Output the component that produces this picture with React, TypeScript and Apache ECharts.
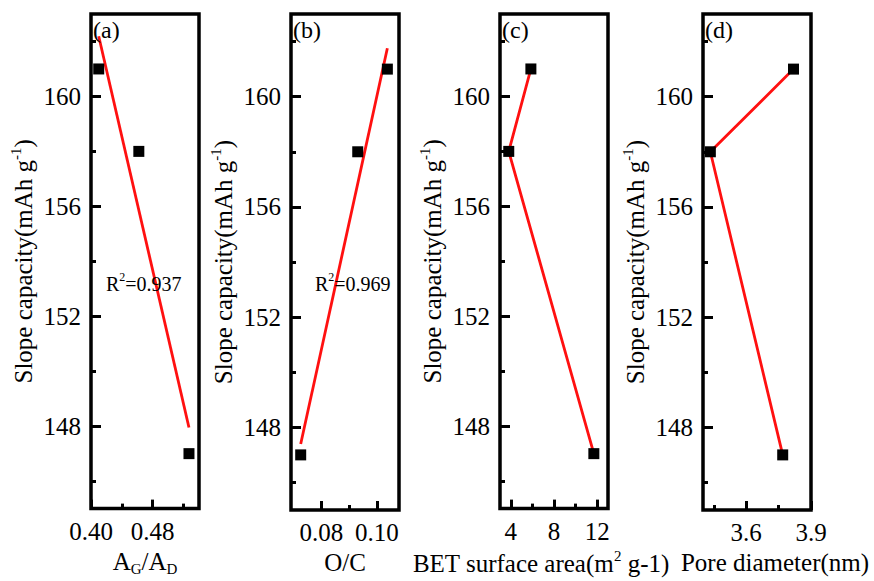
import React, { useEffect, useRef } from "react";
import * as echarts from "echarts";

// Slope capacity of the three samples (mAh g-1), in the order the points are joined
const capacity = [161, 158, 147];
// Structural descriptors of the same three samples
const agAdRatio = [0.41, 0.462, 0.527];
const oxygenCarbon = [0.1038, 0.0931, 0.0725];
const betArea = [5.86, 3.81, 11.69];
const poreDiameter = [3.819, 3.434, 3.769];

// Shared y-axis ticks
const yMajorTicks = [148, 152, 156, 160];
const yMinorTicks = [146, 150, 154, 158, 162];

// Per-panel x-axis ticks
const xMajorA = [0.4, 0.48];
const xMinorA = [0.44, 0.52];
const xMajorB = [0.08, 0.1];
const xMinorB = [0.09];
const xMajorC = [4, 8, 12];
const xMinorC = [6, 10];
const xMajorD = [3.6, 3.9];
const xMinorD = [3.45, 3.75];

// Coefficients of determination for the linear fits
const r2Values = ["0.937", "0.969"];
const panelTags = ["(a)", "(b)", "(c)", "(d)"];

const FONT = "Liberation Serif";
const RED = "#ff1010";

function pairs(xs: number[], ys: number[]) {
  return xs.map((x, i) => [x, ys[i]]);
}

// Least-squares straight line, evaluated at the ends of the data range
function linearFit(xs: number[], ys: number[]) {
  const n = xs.length;
  const mx = xs.reduce((s, v) => s + v, 0) / n;
  const my = ys.reduce((s, v) => s + v, 0) / n;
  let sxx = 0;
  let sxy = 0;
  for (let i = 0; i < n; i++) {
    sxx += (xs[i] - mx) * (xs[i] - mx);
    sxy += (xs[i] - mx) * (ys[i] - my);
  }
  const slope = sxy / sxx;
  const b = my - slope * mx;
  const x0 = Math.min(...xs);
  const x1 = Math.max(...xs);
  return [
    [x0, b + slope * x0],
    [x1, b + slope * x1],
  ];
}

// Rich-text styles for axis names with sub/superscripts
const richStyles = {
  n: { fontFamily: FONT, fontSize: 25, color: "#000", lineHeight: 30 },
  sup: { fontFamily: FONT, fontSize: 15, color: "#000", verticalAlign: "top", lineHeight: 30 },
  sub: { fontFamily: FONT, fontSize: 15, color: "#000", verticalAlign: "bottom", lineHeight: 30 },
};

const layout = [
  { left: 91, min: 0.4, max: 0.54, major: xMajorA, minor: xMinorA, digits: 2, name: "{n|A}{sub|G}{n|/A}{sub|D}", shift: 0 },
  { left: 291, min: 0.069, max: 0.108, major: xMajorB, minor: xMinorB, digits: 2, name: "{n|O/C}", shift: 0 },
  { left: 500, min: 3, max: 13, major: xMajorC, minor: xMinorC, digits: 0, name: "{n|BET surface area(m}{sup|2}{n| g-1)}", shift: -13 },
  { left: 703, min: 3.4, max: 3.9, major: xMajorD, minor: xMinorD, digits: 1, name: "{n|Pore diameter(nm)}", shift: 18 },
];

const TOP = 14;
const HEIGHT = 496;
const WIDTH = 108;

export default function App() {
  const ref = useRef<HTMLDivElement>(null);

  useEffect(() => {
    if (!ref.current) return;
    const chart = echarts.init(ref.current, null, { renderer: "svg" });

    const grids = layout.map((p) => ({
      left: p.left,
      top: TOP,
      width: WIDTH,
      height: HEIGHT,
      show: true,
      borderColor: "#000",
      borderWidth: 3.5,
      backgroundColor: "transparent",
    }));

    const labelStyle = { fontFamily: FONT, fontSize: 25, color: "#000" };
    const tickLine = { color: "#000", width: 3 };

    const xAxes: any[] = [];
    const yAxes: any[] = [];
    layout.forEach((p, i) => {
      const pad = p.shift < 0 ? [0, -2 * p.shift, 0, 0] : [0, 0, 0, 2 * p.shift];
      // main x axis: labels, major ticks and the axis name
      xAxes.push({
        gridIndex: i,
        type: "value",
        position: "bottom",
        min: p.min,
        max: p.max,
        axisLine: { show: false },
        splitLine: { show: false },
        axisTick: { inside: true, length: 9, customValues: p.major, lineStyle: tickLine },
        axisLabel: {
          customValues: p.major,
          margin: 10,
          ...labelStyle,
          formatter: (v: number) => v.toFixed(p.digits),
        },
        name: p.name,
        nameLocation: "middle",
        nameGap: 34,
        nameTextStyle: { ...labelStyle, padding: pad, rich: richStyles },
      });
      // companion x axis carrying the short minor ticks
      xAxes.push({
        gridIndex: i,
        type: "value",
        position: "bottom",
        min: p.min,
        max: p.max,
        axisLine: { show: false },
        splitLine: { show: false },
        axisLabel: { show: false },
        axisTick: { inside: true, length: 5, customValues: p.minor, lineStyle: tickLine },
      });
      yAxes.push({
        gridIndex: i,
        type: "value",
        position: "left",
        min: 145,
        max: 163,
        axisLine: { show: false },
        splitLine: { show: false },
        axisTick: { inside: true, length: 10, customValues: yMajorTicks, lineStyle: tickLine },
        axisLabel: {
          customValues: yMajorTicks,
          margin: 10,
          ...labelStyle,
          formatter: (v: number) => String(v),
        },
        name: "{n|Slope capacity(mAh g}{sup|-1}{n|)}",
        nameLocation: "middle",
        nameGap: 53,
        nameTextStyle: { ...labelStyle, rich: richStyles },
      });
      yAxes.push({
        gridIndex: i,
        type: "value",
        position: "left",
        min: 145,
        max: 163,
        axisLine: { show: false },
        splitLine: { show: false },
        axisLabel: { show: false },
        axisTick: { inside: true, length: 5, customValues: yMinorTicks, lineStyle: tickLine },
      });
    });

    const pointStyle = {
      symbol: "rect",
      symbolSize: 11,
      itemStyle: { color: "#000", opacity: 1, borderWidth: 0 },
    };
    const xData = [agAdRatio, oxygenCarbon, betArea, poreDiameter];

    const series: any[] = [];
    // (a), (b): measured points with a least-squares line
    [0, 1].forEach((i) => {
      series.push({
        type: "line",
        xAxisIndex: 2 * i,
        yAxisIndex: 2 * i,
        data: linearFit(xData[i], capacity),
        symbol: "none",
        lineStyle: { color: RED, width: 2.8 },
        z: 2,
      });
      series.push({
        type: "scatter",
        xAxisIndex: 2 * i,
        yAxisIndex: 2 * i,
        data: pairs(xData[i], capacity),
        ...pointStyle,
        z: 3,
      });
    });
    // (c), (d): points joined in sample order
    [2, 3].forEach((i) => {
      series.push({
        type: "line",
        xAxisIndex: 2 * i,
        yAxisIndex: 2 * i,
        data: pairs(xData[i], capacity),
        showSymbol: true,
        showAllSymbol: true,
        ...pointStyle,
        lineStyle: { color: RED, width: 2.8 },
        z: 3,
      });
    });

    const graphic: any[] = [];
    layout.forEach((p, i) => {
      graphic.push({
        type: "text",
        left: p.left + 2,
        top: 18,
        z: 10,
        style: { text: panelTags[i], fontFamily: FONT, fontSize: 24, fill: "#000" },
      });
    });
    [106, 315].forEach((x, i) => {
      graphic.push({
        type: "text",
        left: x,
        top: 271,
        z: 10,
        style: {
          text: "{r|R}{s|2}{r|=" + r2Values[i] + "}",
          rich: {
            r: { fontFamily: FONT, fontSize: 20, fill: "#000", lineHeight: 26 },
            s: { fontFamily: FONT, fontSize: 12, fill: "#000", verticalAlign: "top", lineHeight: 26 },
          },
        },
      });
    });

    chart.setOption({
      animation: false,
      backgroundColor: "#fff",
      textStyle: { fontFamily: FONT, color: "#000" },
      grid: grids,
      xAxis: xAxes,
      yAxis: yAxes,
      series,
      graphic,
    });

    return () => chart.dispose();
  }, []);

  return (
    <div
      ref={ref}
      style={{ position: "fixed", left: 0, top: 0, width: 874, height: 581, background: "#fff" }}
    />
  );
}
